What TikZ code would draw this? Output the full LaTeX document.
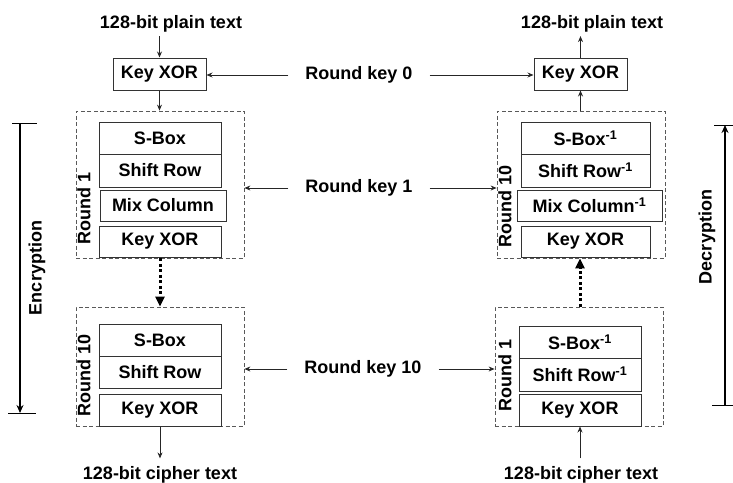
\documentclass[tikz,border=0pt]{standalone}
\usepackage{fontspec}
\setmainfont{Liberation Sans}
\usetikzlibrary{arrows.meta}
\begin{document}
\begin{tikzpicture}[x=1pt,y=-1pt,
  every node/.style={font=\bfseries\fontsize{18}{21}\selectfont, text=black},
  blk/.style={draw=black!80, line width=1pt, inner sep=0pt, fill=white},
  rnd/.style={draw=black!65, line width=0.8pt, dash pattern=on 4pt off 2.5pt, inner sep=0pt},
  lbl/.style={inner xsep=0pt, inner ysep=4pt},
  rk/.style={inner xsep=17pt, inner ysep=0pt},
  arr/.style={draw=black!85, line width=0.8pt, -{Stealth[length=6pt,width=5pt]}},
  dots/.style={draw=black, line width=3pt, dash pattern=on 3pt off 2.5pt, -{Triangle[length=10pt,width=9pt]}},
  span/.style={draw=black, line width=1.5pt, -{Stealth[length=8pt,width=7pt]}},
  tick/.style={draw=black, line width=1pt},
  rlab/.style={rotate=90, inner sep=0pt}
]
\useasboundingbox (0,0) rectangle (733,482);

% ---- encryption side ----
\node[lbl] (pt1) at (171,23.5) {128-bit plain text};
\node[blk, minimum width=93pt, minimum height=32pt] (kx1) at (159.5,74) {Key XOR};

\node[rnd, minimum width=168pt, minimum height=147pt] (e1) at (160,184.5) {};
\node[blk, minimum width=122pt, minimum height=32pt] (s1) at (160,138) {S-Box};
\node[blk, minimum width=122pt, minimum height=33pt] (sr1) at (160,170.5) {Shift Row};
\node[blk, minimum width=126pt, minimum height=31pt] (mc1) at (163,205.5) {Mix Column};
\node[blk, minimum width=122pt, minimum height=31pt] (kx2) at (160,241.5) {Key XOR};
\node[rlab] (e1l) at (84,208) {Round 1};

\node[rnd, minimum width=168pt, minimum height=119pt] (e10) at (160,366.5) {};
\node[blk, minimum width=122pt, minimum height=32pt] (s2) at (160,340) {S-Box};
\node[blk, minimum width=122pt, minimum height=32pt] (sr2) at (160,372) {Shift Row};
\node[blk, minimum width=122pt, minimum height=32pt] (kx3) at (160,410) {Key XOR};
\node[rlab] (e10l) at (84,375) {Round 10};

\node[lbl, inner ysep=8pt] (ct1) at (160,475) {128-bit cipher text};

% ---- decryption side ----
\node[lbl] (pt2) at (592,23.5) {128-bit plain text};
\node[blk, minimum width=93pt, minimum height=32pt] (kx4) at (580.5,74) {Key XOR};

\node[rnd, minimum width=168pt, minimum height=147pt] (d10) at (581,184.5) {};
\node[blk, minimum width=129pt, minimum height=32pt] (is1) at (585.5,138) {S-Box\textsuperscript{-1}};
\node[blk, minimum width=129pt, minimum height=33pt] (isr1) at (585.5,170.5) {Shift Row\textsuperscript{-1}};
\node[blk, minimum width=145pt, minimum height=31pt] (imc) at (589.5,205.5) {Mix Column\textsuperscript{-1}};
\node[blk, minimum width=129pt, minimum height=31pt] (kx5) at (585.5,241.5) {Key XOR};
\node[rlab] (d10l) at (505,206) {Round 10};

\node[rnd, minimum width=168pt, minimum height=119pt] (d1) at (579,366.5) {};
\node[blk, minimum width=122pt, minimum height=32pt] (is2) at (580,342) {S-Box\textsuperscript{-1}};
\node[blk, minimum width=122pt, minimum height=33pt] (isr2) at (580,374.5) {Shift Row\textsuperscript{-1}};
\node[blk, minimum width=122pt, minimum height=32pt] (kx6) at (580,410) {Key XOR};
\node[rlab] (d1l) at (505,375) {Round 1};

\node[lbl, inner ysep=8pt] (ct2) at (581,475) {128-bit cipher text};

% ---- round keys ----
\node[rk] (rk0) at (359,75) {Round key 0};
\node[rk] (rk1) at (359,188) {Round key 1};
\node[rk] (rk10) at (363,369) {Round key 10};

\draw[arr] (rk0.west) -- (rk0.west -| kx1.east);
\draw[arr] (rk0.east) -- (rk0.east -| kx4.west);
\draw[arr] (rk1.west) -- (rk1.west -| e1.east);
\draw[arr] (rk1.east) -- (rk1.east -| d10.west);
\draw[arr] (rk10.west) -- (rk10.west -| e10.east);
\draw[arr] (rk10.east) -- (rk10.east -| d1.west);

% ---- data flow ----
\draw[arr] (pt1.south -| kx1.south) -- (kx1.north);
\draw[arr] (kx1.south) -- (kx1.south |- e1.north);
\draw[dots] (e1.south) -- (e10.north);
\draw[arr] (kx3.south) -- (kx3.south |- ct1.north);

\draw[arr] (kx6.south |- ct2.north) -- (kx6.south);
\draw[dots] (kx6.north |- d1.north) -- (kx6.north |- d10.south);
\draw[arr] (kx4.south |- d10.north) -- (kx4.south);
\draw[arr] (kx4.north) -- (kx4.north |- pt2.south);

% ---- direction spans ----
\coordinate (encT) at (20,123);
\coordinate (encB) at (20,413);
\draw[tick] ([xshift=-8pt]encT) -- ([xshift=17pt]encT);
\draw[tick] ([xshift=-12pt]encB) -- ([xshift=16pt]encB);
\draw[span] (encT) -- (encB);
\node[rlab] (enc) at (37,268) {Encryption};

\coordinate (decT) at (725,125);
\coordinate (decB) at (725,405);
\draw[tick] ([xshift=-11pt]decT) -- ([xshift=8pt]decT);
\draw[tick] ([xshift=-13pt]decB) -- ([xshift=8pt]decB);
\draw[span] (decB) -- (decT);
\node[rlab] (dec) at (707,237) {Decryption};
\end{tikzpicture}
\end{document}
